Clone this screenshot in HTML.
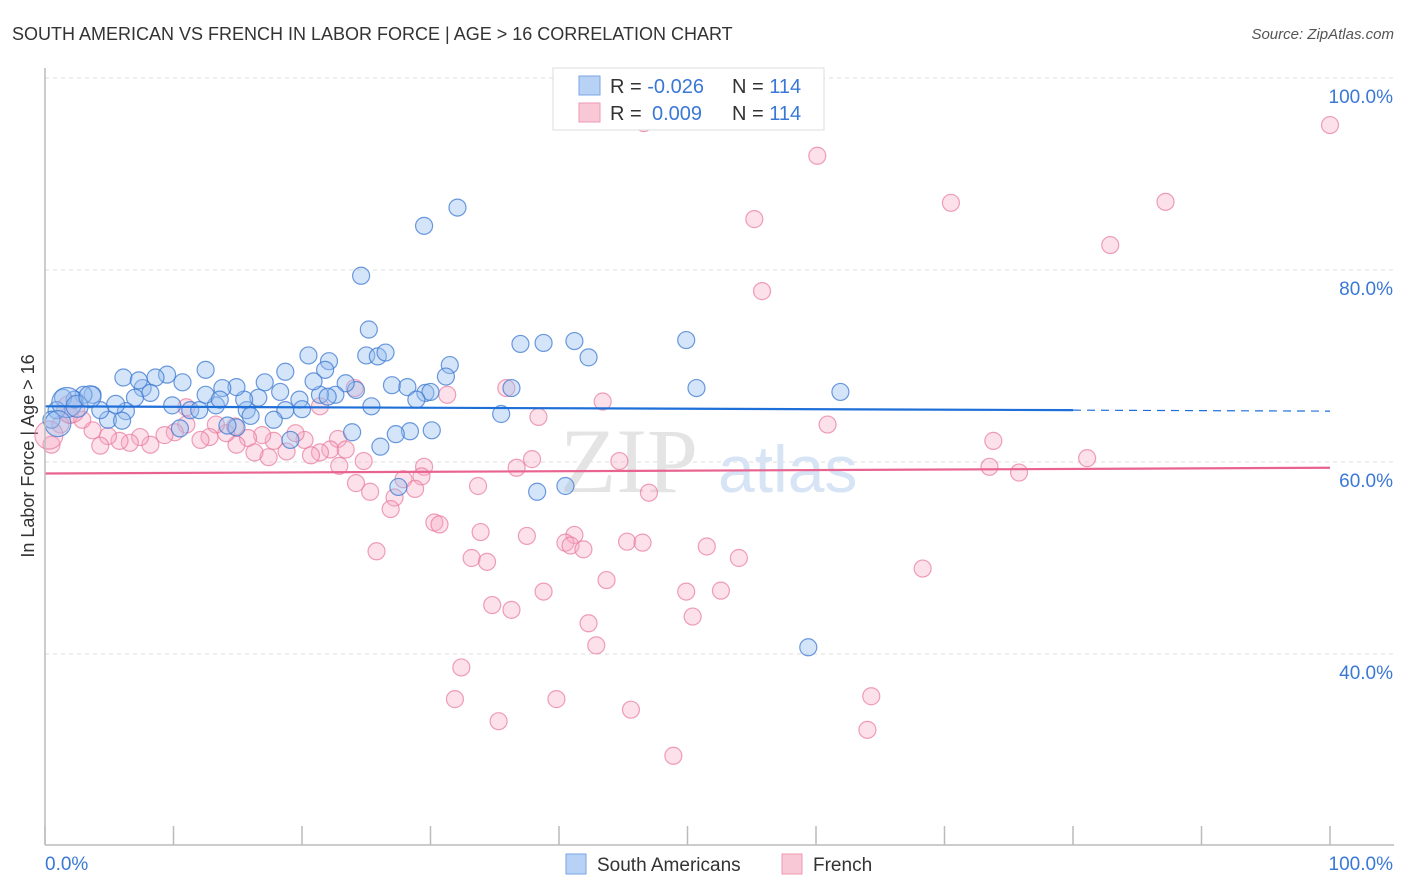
<!DOCTYPE html>
<html><head><meta charset="utf-8">
<style>
body{margin:0;background:#fff;font-family:"Liberation Sans",sans-serif;}
#wrap{position:relative;width:1406px;height:892px;overflow:hidden;}
</style></head>
<body>
<div id="wrap">
<svg id="svg" width="1406" height="892" xmlns="http://www.w3.org/2000/svg">
<text x="12" y="40" font-size="18" fill="#333">SOUTH AMERICAN VS FRENCH IN LABOR FORCE | AGE &gt; 16 CORRELATION CHART</text>
<text x="1394" y="39" font-size="15" fill="#555" font-style="italic" text-anchor="end">Source: ZipAtlas.com</text>
<text x="34" y="456" font-size="18" fill="#333" text-anchor="middle" transform="rotate(-90 34 456)">In Labor Force | Age &gt; 16</text>
<g id="grid"></g>
<text x="560" y="492" font-size="92" fill="#e4e4e4" font-family="Liberation Serif,serif">ZIP</text>
<text x="718" y="492" font-size="66" fill="#d6e4f5">atlas</text>
<g id="pts"></g>
<g id="trend"></g>
<g id="axes"></g>
<g>
<rect x="553" y="68" width="271" height="62" fill="#fff" stroke="#ddd"/>
<rect x="579" y="76" width="21" height="19" fill="#b7d2f5" stroke="#7aa6e6"/>
<rect x="579" y="103" width="21" height="19" fill="#f9c8d6" stroke="#ec9ab2"/>
<text x="610" y="93" font-size="20" fill="#333">R = <tspan fill="#3a78d6">-0.026</tspan><tspan x="732">N = </tspan><tspan fill="#3a78d6">114</tspan></text>
<text x="610" y="120" font-size="20" fill="#333">R = <tspan x="652" fill="#3a78d6">0.009</tspan><tspan x="732">N = </tspan><tspan fill="#3a78d6">114</tspan></text>
</g>
<g>
<rect x="566" y="854" width="20" height="20" fill="#b7d2f5" stroke="#7aa6e6"/>
<text x="597" y="871" font-size="19" fill="#333">South Americans</text>
<rect x="782" y="854" width="20" height="20" fill="#f9c8d6" stroke="#ec9ab2"/>
<text x="813" y="871" font-size="19" fill="#333">French</text>
</g>
</svg>
</div>
<script>
const blueX=[29.5,32.1,24.6,25.2,25.0,25.9,26.5,20.5,22.1,21.8,31.5,31.2,37.0,38.8,41.2,42.3,49.9,50.7,61.9,59.4,40.5,38.3,27.5,35.5,36.3,27.0,28.2,29.6,30.0,28.9,30.1,28.4,27.3,26.1,23.9,25.4,24.2,23.4,22.6,21.4,20.9,18.7,17.1,18.3,19.8,18.7,17.8,19.1,16.6,15.7,15.5,14.9,13.8,13.3,12.5,10.7,9.5,8.6,7.6,6.1,7.3,8.2,7.0,6.3,4.9,4.3,3.7,3.0,2.3,1.4,0.9,0.5,9.9,11.3,12.0,14.9,14.2,10.5,6.0,12.5,13.6,1.7,2.5,3.5,5.5,16.0,20.0,22.0,1.0];
const blueY=[84.6,86.5,79.4,73.8,71.1,71.0,71.4,71.1,70.5,69.6,70.1,68.9,72.3,72.4,72.6,70.9,72.7,67.7,67.3,40.7,57.5,56.9,57.4,65.0,67.7,68.0,67.8,67.2,67.3,66.5,63.3,63.2,62.9,61.6,63.1,65.8,67.5,68.2,67.0,67.0,68.4,69.4,68.3,67.3,66.5,65.4,64.4,62.3,66.7,65.4,66.5,67.8,67.7,65.9,69.6,68.3,69.1,68.8,67.7,68.8,68.5,67.2,66.7,65.3,64.4,65.4,67.0,67.0,66.5,66.7,65.4,64.4,65.9,65.4,65.4,63.6,63.8,63.5,64.3,67.0,66.5,66.2,65.8,66.8,66.0,64.8,65.5,66.8,64.0];
const blueR=[8.5,8.5,8.5,8.5,8.5,8.5,8.5,8.5,8.5,8.5,8.5,8.5,8.5,8.5,8.5,8.5,8.5,8.5,8.5,8.5,8.5,8.5,8.5,8.5,8.5,8.5,8.5,8.5,8.5,8.5,8.5,8.5,8.5,8.5,8.5,8.5,8.5,8.5,8.5,8.5,8.5,8.5,8.5,8.5,8.5,8.5,8.5,8.5,8.5,8.5,8.5,8.5,8.5,8.5,8.5,8.5,8.5,8.5,8.5,8.5,8.5,8.5,8.5,8.5,8.5,8.5,8.5,8.5,8.5,8.5,8.5,8.5,8.5,8.5,8.5,8.5,8.5,8.5,8.5,8.5,8.5,15,11,11,9,8.5,8.5,8.5,13];
const pinkX=[46.6,100,60.1,55.2,70.5,87.2,82.9,55.8,35.9,31.3,43.4,38.4,60.9,73.8,81.1,73.5,75.8,44.7,37.9,36.7,29.5,29.3,27.9,28.8,33.7,24.2,25.3,27.2,26.9,47.0,30.3,30.7,33.9,37.5,41.2,40.5,40.9,41.9,45.3,46.5,51.5,54.0,25.8,33.2,34.4,43.7,68.3,38.8,49.9,52.6,34.8,36.3,50.4,42.3,42.9,32.4,31.9,39.8,64.3,45.6,35.3,64.0,48.9,22.8,22.2,23.4,24.8,22.9,21.4,20.7,20.2,19.5,18.8,17.8,16.9,17.4,16.3,15.8,14.9,14.1,13.3,12.8,12.1,11.0,10.1,9.3,8.2,7.4,6.6,5.8,4.9,4.3,3.7,2.9,1.9,1.2,0.5,21.4,11.0,24.1,14.8,2.0,0.3];
const pinkY=[95.3,95.1,91.9,85.3,87.0,87.1,82.6,77.8,67.7,67.0,66.3,64.7,63.9,62.2,60.4,59.5,58.9,60.1,60.3,59.4,59.5,58.5,58.2,57.2,57.5,57.8,56.9,56.3,55.1,56.8,53.7,53.5,52.7,52.3,52.4,51.6,51.3,50.9,51.7,51.6,51.2,50.0,50.7,50.0,49.6,47.7,48.9,46.5,46.5,46.6,45.1,44.6,43.9,43.2,40.9,38.6,35.3,35.3,35.6,34.2,33.0,32.1,29.4,62.4,61.3,61.3,60.1,59.6,61.0,60.7,62.3,63.0,61.1,62.2,62.8,60.5,61.0,62.5,61.8,63.0,63.9,62.6,62.3,63.9,63.1,62.8,61.8,62.6,62.0,62.2,62.7,61.7,63.3,64.4,64.9,63.9,61.8,65.8,65.7,67.7,63.7,65.5,62.8];
const pinkR=pinkX.map((_,i)=>i>=pinkX.length-2?14:8.5);
const blueTrendX=[0,80,100];
const blueTrendY=[65.8,65.4,65.3];
const pinkTrendX=[0,100];
const pinkTrendY=[58.8,59.4];
const yTickVals=[40,60,80,100];
const yTickLabels=["40.0%","60.0%","80.0%","100.0%"];
const xTickVals=[0,10,20,30,40,50,60,70,80,90,100];

const X0=45,X1=1330,Y100=78,PX20=192;
const sx=v=>X0+(X1-X0)*v/100;
const sy=v=>Y100+(100-v)*PX20/20;
const NS="http://www.w3.org/2000/svg";
function mk(tag,attrs,parent){const e=document.createElementNS(NS,tag);for(const k in attrs)e.setAttribute(k,attrs[k]);parent.appendChild(e);return e;}
const grid=document.getElementById('grid'),pts=document.getElementById('pts'),trend=document.getElementById('trend'),axes=document.getElementById('axes');
yTickVals.forEach((v,i)=>{
  const l=mk('line',{x1:X0,x2:1394,y1:sy(v),y2:sy(v),stroke:'#ddd','stroke-dasharray':'4,4'},grid);
  
  
  const t=mk('text',{x:1393,y:sy(v)+25,'font-size':19,fill:'#3a78d6','text-anchor':'end'},grid);
  t.textContent=yTickLabels[i];
  
  
});
const ax=mk('line',{x1:X0,x2:1394,y1:845,y2:845,stroke:'#bbb','stroke-width':1.5},axes);


const ay=mk('line',{x1:X0,x2:X0,y1:68,y2:845,stroke:'#bbb','stroke-width':1.5},axes);


xTickVals.forEach(v=>{
  const t=mk('line',{x1:sx(v),x2:sx(v),y1:826,y2:845,stroke:'#bbb','stroke-width':1.5},axes);
  
  
});
const xl=mk('text',{x:45,y:870,'font-size':19,fill:'#3a78d6'},axes);xl.textContent='0.0%';


const xr=mk('text',{x:1393,y:870,'font-size':19,fill:'#3a78d6','text-anchor':'end'},axes);xr.textContent='100.0%';


function dots(xs,ys,rs,fill,stroke,name){
  xs.forEach((x,i)=>{
    const c=mk('circle',{cx:sx(x),cy:sy(ys[i]),r:rs[i],fill:fill,stroke:stroke,'stroke-width':1.2},pts);
    
    
  });
}
dots(pinkX,pinkY,pinkR,'rgba(246,170,195,0.35)','rgba(232,120,155,0.7)','french-point');
dots(blueX,blueY,blueR,'rgba(150,190,240,0.4)','rgba(60,120,210,0.75)','south-american-point');
const b1=mk('line',{x1:sx(blueTrendX[0]),y1:sy(blueTrendY[0]),x2:sx(blueTrendX[1]),y2:sy(blueTrendY[1]),stroke:'#1f6fd8','stroke-width':2.2},trend);


const b2=mk('line',{x1:sx(blueTrendX[1]),y1:sy(blueTrendY[1]),x2:sx(blueTrendX[2]),y2:sy(blueTrendY[2]),stroke:'#1f6fd8','stroke-width':1.2,'stroke-dasharray':'8,6'},trend);


const p1=mk('line',{x1:sx(pinkTrendX[0]),y1:sy(pinkTrendY[0]),x2:sx(pinkTrendX[1]),y2:sy(pinkTrendY[1]),stroke:'#e8638e','stroke-width':2.2},trend);


</script>
</body></html>
